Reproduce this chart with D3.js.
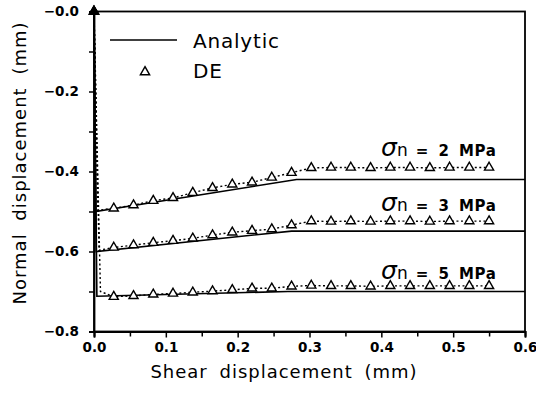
<!DOCTYPE html>
<html>
<head>
<meta charset="utf-8">
<script src="https://cdn.jsdelivr.net/npm/d3@7"></script>
<style>
  body { margin: 0; background: #fff; }
  text { font-family: "DejaVu Sans", sans-serif; fill: #000; }
</style>
</head>
<body>
<div id="chart"></div>
<script>
// analytic solution, one line per normal stress
const analyticX2 = [0, 0.002, 0.282, 0.6];
const analytic2 = [0, -0.5, -0.42, -0.42];
const analyticX3 = [0, 0.003, 0.275, 0.6];
const analytic3 = [0, -0.6, -0.549, -0.549];
const analyticX5 = [0, 0.004, 0.27, 0.6];
const analytic5 = [0, -0.712, -0.70, -0.70];

// DE results (first point is the initial state)
const deX = [0, 0.0275, 0.055, 0.0825, 0.11, 0.1375, 0.165, 0.1925, 0.22, 0.2475, 0.275,
             0.3025, 0.33, 0.3575, 0.385, 0.4125, 0.44, 0.4675, 0.495, 0.5225, 0.55];
const de2 = [0, -0.492, -0.484, -0.473, -0.466, -0.453, -0.441, -0.432, -0.427, -0.415, -0.403,
             -0.391, -0.390, -0.390, -0.391, -0.390, -0.390, -0.391, -0.390, -0.390, -0.390];
const de3 = [0, -0.590, -0.584, -0.578, -0.573, -0.567, -0.559, -0.552, -0.548, -0.544, -0.534,
             -0.524, -0.525, -0.524, -0.525, -0.524, -0.524, -0.525, -0.524, -0.524, -0.524];
const de5 = [0, -0.713, -0.711, -0.707, -0.705, -0.702, -0.699, -0.696, -0.692, -0.692, -0.687,
             -0.685, -0.686, -0.686, -0.687, -0.686, -0.686, -0.686, -0.686, -0.686, -0.686];
// where the DE curve bottoms out after the normal load is applied
const deDropX = [0.005, 0.007, 0.009];
const deDropY = [-0.497, -0.597, -0.70];

const stressLabels = ['2', '3', '5'];
const xTicks = [0, 0.1, 0.2, 0.3, 0.4, 0.5, 0.6];
const xMinor = [0.05, 0.15, 0.25, 0.35, 0.45, 0.55];
const yTicks = [0, -0.1, -0.2, -0.3, -0.4, -0.5, -0.6, -0.7, -0.8];

const width = 536, height = 396;
const margin = { top: 11.5, right: 11, bottom: 64.5, left: 94 };

const svg = d3.select('#chart').append('svg')
    .attr('width', width)
    .attr('height', height);

const x = d3.scaleLinear().domain([0, 0.6]).range([margin.left, width - margin.right]);
const y = d3.scaleLinear().domain([-0.8, 0]).range([height - margin.bottom, margin.top]);

// frame
svg.append('rect')
    .attr('x', x(0)).attr('y', y(0))
    .attr('width', x(0.6) - x(0)).attr('height', y(-0.8) - y(0))
    .attr('fill', 'none').attr('stroke', '#000').attr('stroke-width', 1.8);

svg.append('g')
    .attr('transform', `translate(0,${y(-0.8)})`)
    .call(d3.axisBottom(x).tickValues(xTicks).tickSize(6).tickPadding(5)
        .tickFormat(d3.format('.1f')));
svg.append('g')
    .attr('transform', `translate(0,${y(-0.8)})`)
    .call(d3.axisBottom(x).tickValues(xMinor).tickSize(5).tickFormat(''));

svg.append('g')
    .attr('transform', `translate(${x(0)},0)`)
    .call(d3.axisLeft(y).tickValues(yTicks).tickSize(5).tickPadding(10)
        .tickFormat(d => Math.round(d * 10) % 2 !== 0 ? '' : (d === 0 ? '\u22120.0' : d3.format('.1f')(d))));

svg.selectAll('.domain').attr('stroke-width', 1.8);
svg.selectAll('.tick line').attr('stroke-width', 1.5);
svg.selectAll('.tick text')
    .style('font-size', '13.5px')
    .style('font-weight', 'bold')
    .style('font-family', '"DejaVu Sans", sans-serif');

svg.append('text')
    .attr('x', 284).attr('y', 378)
    .attr('text-anchor', 'middle')
    .style('font-size', '18px')
    .style('letter-spacing', '1px')
    .style('word-spacing', '5px')
    .text('Shear displacement (mm)');

svg.append('text')
    .attr('transform', 'translate(26,163) rotate(-90)')
    .attr('text-anchor', 'middle')
    .style('font-size', '18px')
    .style('letter-spacing', '1px')
    .style('word-spacing', '6px')
    .text('Normal displacement (mm)');

const line = d3.line().x(d => x(d[0])).y(d => y(d[1]));

const analytic = [[analyticX2, analytic2], [analyticX3, analytic3], [analyticX5, analytic5]];
analytic.forEach(([xs, ys]) => {
    svg.append('path')
        .datum(xs.map((v, i) => [v, ys[i]]))
        .attr('d', line)
        .attr('fill', 'none')
        .attr('stroke', '#000')
        .attr('stroke-width', 1.6);
});

const tri = d3.symbol().type(d3.symbolTriangle).size(36);

[de2, de3, de5].forEach((ys, k) => {
    const pts = deX.map((v, i) => [v, ys[i]]);
    const path = [pts[0], [deDropX[k], deDropY[k]]].concat(pts.slice(1));
    svg.append('path')
        .datum(path)
        .attr('d', line)
        .attr('fill', 'none')
        .attr('stroke', '#000')
        .attr('stroke-width', 1.4)
        .attr('stroke-dasharray', '2,2.5');
    svg.append('g').selectAll('path')
        .data(pts)
        .enter()
        .append('path')
        .attr('d', tri)
        .attr('transform', d => `translate(${x(d[0])},${y(d[1])})`)
        .attr('fill', (d, i) => i === 0 ? '#000' : '#fff')
        .attr('stroke', '#000')
        .attr('stroke-width', 1.4);
});

// curve labels
const labelY = [-0.36, -0.499, -0.669];
stressLabels.forEach((s, i) => {
    const t = svg.append('text')
        .attr('x', x(0.56))
        .attr('y', y(labelY[i]))
        .attr('text-anchor', 'end');
    t.append('tspan').style('font-size', '25px').style('font-style', 'italic').text('\u03c3');
    t.append('tspan').style('font-size', '17px').text('n');
    t.append('tspan').style('font-size', '15px').style('font-weight', 'bold')
        .style('letter-spacing', '0.5px').style('word-spacing', '4px')
        .attr('dx', 8).text(`= ${s} MPa`);
});

// legend
const legend = svg.append('g');
legend.append('line')
    .attr('x1', 110).attr('x2', 177).attr('y1', 40).attr('y2', 40)
    .attr('stroke', '#000').attr('stroke-width', 1.6);
legend.append('text').attr('x', 193).attr('y', 48)
    .style('font-size', '20px').style('letter-spacing', '0.8px').text('Analytic');
legend.append('path')
    .attr('d', tri)
    .attr('transform', 'translate(145,72)')
    .attr('fill', '#fff').attr('stroke', '#000').attr('stroke-width', 1.5);
legend.append('text').attr('x', 193).attr('y', 78)
    .style('font-size', '20px').style('letter-spacing', '0.8px').text('DE');
</script>
</body>
</html>
